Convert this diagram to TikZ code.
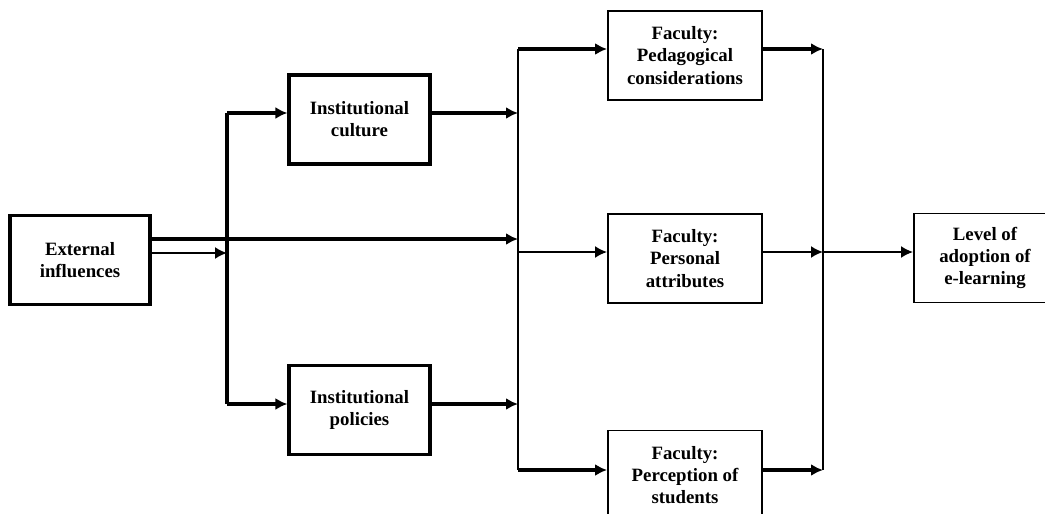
\documentclass[tikz,border=0pt]{standalone}
\usepackage{fontspec}
\setmainfont{Liberation Serif}
\usetikzlibrary{arrows.meta,positioning}

\begin{document}
\begin{tikzpicture}[x=0.02cm, y=-0.02cm,
        every node/.style={align=center, font=\fontsize{10.7}{12.6}\selectfont\bfseries},
        box/.style={draw, line width=1.1pt, minimum width=3.08cm, minimum height=1.78cm, inner sep=2pt},
        heavybox/.style={box, line width=1.8pt, minimum width=2.82cm},
        arrow/.style={-{Latex[length=2.4mm, width=2.4mm]}, line width=1.1pt},
        tarrow/.style={arrow, line width=2pt},
        bus/.style={line width=1.1pt},
        tbus/.style={line width=2pt}
        ]
        \path[use as bounding box, clip] (0,0) rectangle (1045,514);

        % ---------------- Boxes ----------------
        \node[heavybox, minimum width=2.8cm] (external) at (80,260)    {External\\influences};
        \node[heavybox] (culture)     at (359.5,119.5) {Institutional\\culture};
        \node[heavybox] (policies)    at (359.5,410)   {Institutional\\policies};
        \node[box] (pedagogical) at (685,55.5)  {Faculty:\\Pedagogical\\considerations};
        \node[box] (personal)    at (685,258.5) {Faculty:\\Personal\\attributes};
        \node[box] (perception)  at (685,475)   {Faculty:\\Perception of\\students};
        \node[box, minimum width=2.84cm] (level) at (985,258) {Level of\\adoption of\\e-learning};

        % ---------------- Bus junctions ----------------
        \coordinate (lbus top) at (227,113);
        \coordinate (lbus bot) at (227,404);
        \coordinate (mbus top) at (518,49);
        \coordinate (mbus bot) at (518,470);
        \coordinate (rbus top) at (823,49);
        \coordinate (rbus bot) at (823,470);
        \coordinate (mid)      at (823,252);
        \coordinate (ext hi) at ([yshift=0.42cm]external.east);
        \coordinate (ext lo) at ([yshift=0.14cm]external.east);

        % ---------------- Vertical buses ----------------
        \draw[tbus] (lbus top) -- (lbus bot);
        \draw[bus]  (mbus top) -- (mbus bot);
        \draw[bus]  (rbus top) -- (rbus bot);

        % ---------------- External influences ----------------
        \draw[tarrow] (ext hi) -- (ext hi -| mbus top);
        \draw[arrow]  (ext lo) -- (ext lo -| lbus top);

        % ---------------- Institutional level ----------------
        \draw[tarrow] (lbus top) -- (lbus top -| culture.west);
        \draw[tarrow] (lbus bot) -- (lbus bot -| policies.west);
        \draw[tarrow] (culture.east |- lbus top)  -- (mbus top |- lbus top);
        \draw[tarrow] (policies.east |- lbus bot) -- (mbus top |- lbus bot);

        % ---------------- Faculty level ----------------
        \draw[tarrow] (mbus top) -- (mbus top -| pedagogical.west);
        \draw[arrow]  (mid -| mbus top) -- (mid -| personal.west);
        \draw[tarrow] (mbus bot) -- (mbus bot -| perception.west);
        \draw[tarrow] (pedagogical.east |- rbus top) -- (rbus top);
        \draw[arrow]  (mid -| personal.east) -- (mid);
        \draw[tarrow] (perception.east |- rbus bot) -- (rbus bot);

        % ---------------- Outcome ----------------
        \draw[arrow] (mid) -- (mid -| level.west);

\end{tikzpicture}
\end{document}
